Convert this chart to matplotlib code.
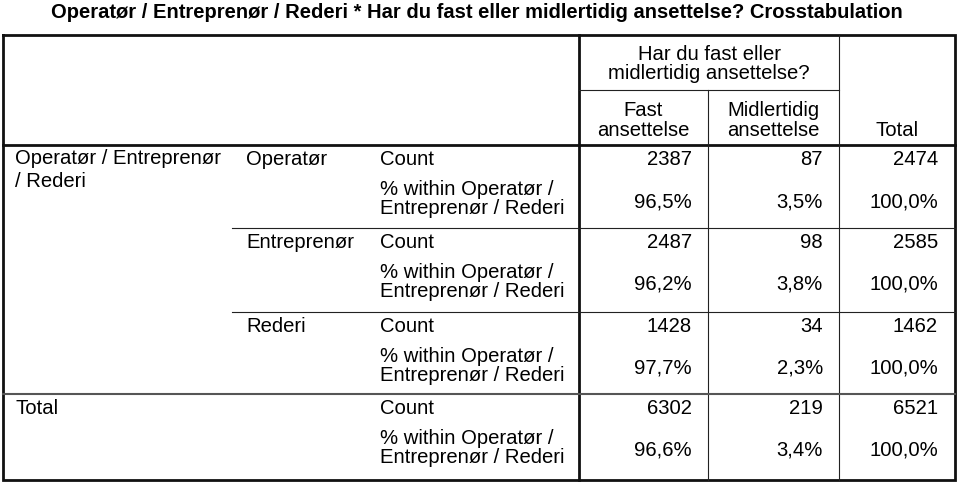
#!/usr/bin/env python3
"""SPSS style crosstab: Operatør / Entreprenør / Rederi * fast/midlertidig ansettelse."""

import matplotlib
matplotlib.use("Agg")
import matplotlib.pyplot as plt

plt.rcParams["font.family"] = ["Liberation Sans", "DejaVu Sans"]

title = "Operatør / Entreprenør / Rederi * Har du fast eller midlertidig ansettelse? Crosstabulation"
row_var = ["Operatør / Entreprenør", "/ Rederi"]
groups = ["Operatør", "Entreprenør", "Rederi", "Total"]
stat_count = "Count"
stat_pct = ["% within Operatør /", "Entreprenør / Rederi"]
col_var = ["Har du fast eller", "midlertidig ansettelse?"]
col_heads = [["Fast", "ansettelse"], ["Midlertidig", "ansettelse"], ["Total"]]

count_fast = [2387, 2487, 1428, 6302]
count_mid = [87, 98, 34, 219]
count_total = [2474, 2585, 1462, 6521]
pct_fast = [96.5, 96.2, 97.7, 96.6]
pct_mid = [3.5, 3.8, 2.3, 3.4]
pct_total = [100.0, 100.0, 100.0, 100.0]

FS = 14.6
fig = plt.figure(figsize=(9.6, 4.82), dpi=100)
ax = fig.add_axes([0, 0, 1, 1])
ax.set_xlim(0, 960)
ax.set_ylim(482, 0)
ax.axis("off")

L, R, T, B = 3, 955, 35, 480
x_data, x_c1, x_c2 = 579, 708, 839
y_hdr = 145
group_tops = [145, 228, 312, 394]

ax.text(477, 18, title, ha="center", va="baseline", fontsize=14.5, fontweight="bold")

# grid lines
thin = dict(color="#222222", lw=0.8)
thick = dict(color="#111111", lw=2.0)
ax.plot([L, R, R, L, L], [T, T, B, B, T], solid_joinstyle="miter", **thick)
ax.plot([x_data, x_data], [T, B], **thick)
ax.plot([L, R], [y_hdr, y_hdr], **thick)
ax.plot([x_data, x_c2], [90, 90], **thin)
ax.plot([x_c1, x_c1], [90, B], **thin)
ax.plot([x_c2, x_c2], [T, B], **thin)
for yt in group_tops[1:3]:
    ax.plot([232, R], [yt, yt], **thin)
ax.plot([L, R], [group_tops[3], group_tops[3]], color="#555555", lw=1.5)

# column headers
ax.text((x_data + x_c2) / 2, 60, col_var[0], ha="center", va="baseline", fontsize=FS)
ax.text((x_data + x_c2) / 2, 79, col_var[1], ha="center", va="baseline", fontsize=FS)
centers = [(x_data + x_c1) / 2, (x_c1 + x_c2) / 2, (x_c2 + R) / 2]
for cx, lines in zip(centers, col_heads):
    base = 136 - 20 * (len(lines) - 1)
    for k, s in enumerate(lines):
        ax.text(cx, base + 20 * k, s, ha="center", va="baseline", fontsize=FS)

# row headers
ax.text(15, group_tops[0] + 19, row_var[0], ha="left", va="baseline", fontsize=FS)
ax.text(15, group_tops[0] + 42, row_var[1], ha="left", va="baseline", fontsize=FS)

fmt = lambda v: f"{v:.1f}%".replace(".", ",")
rights = [x_c1 - 16, x_c2 - 16, R - 17]
for i, y0 in enumerate(group_tops):
    gx = 15 if groups[i] == "Total" else 246
    ax.text(gx, y0 + 20, groups[i], ha="left", va="baseline", fontsize=FS)
    ax.text(380, y0 + 20, stat_count, ha="left", va="baseline", fontsize=FS)
    ax.text(380, y0 + 50, stat_pct[0], ha="left", va="baseline", fontsize=FS)
    ax.text(380, y0 + 69, stat_pct[1], ha="left", va="baseline", fontsize=FS)
    counts = [count_fast[i], count_mid[i], count_total[i]]
    pcts = [pct_fast[i], pct_mid[i], pct_total[i]]
    for rx, c, p in zip(rights, counts, pcts):
        ax.text(rx, y0 + 20, str(c), ha="right", va="baseline", fontsize=FS)
        ax.text(rx, y0 + 62, fmt(p), ha="right", va="baseline", fontsize=FS)

fig.savefig("out.png", dpi=100)
plt.close(fig)
